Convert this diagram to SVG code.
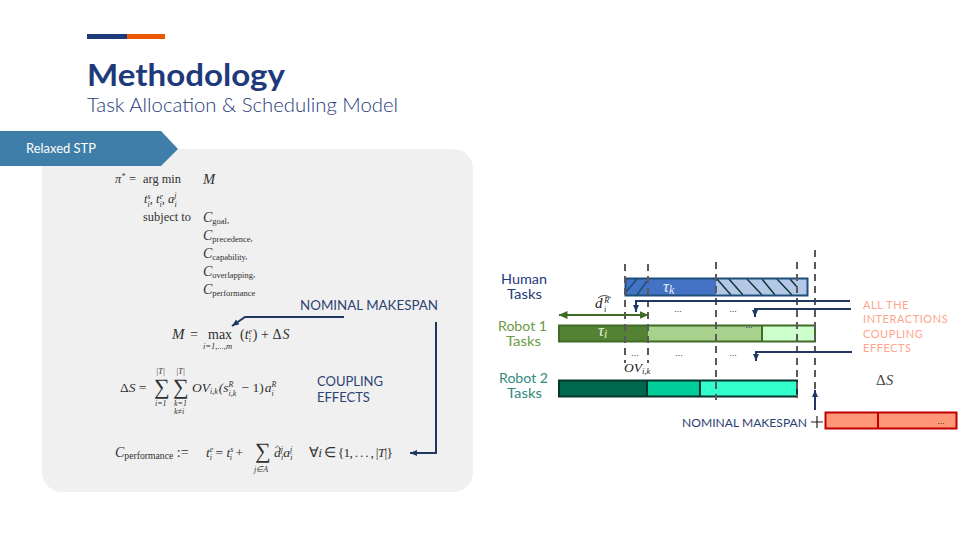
<svg xmlns="http://www.w3.org/2000/svg" width="960" height="540" viewBox="0 0 960 540">
<style>
.m{font-family:"Liberation Serif",serif;fill:#303030;font-size:12.4px}
.i{font-style:italic}
.n{font-style:normal}
.s{font-size:8px}
.t{font-size:8.5px;font-style:normal}
.sum{font-size:22px}
.h{font-family:Lato,sans-serif}
.lab{font-family:Lato,sans-serif;font-size:14px}
.c{fill:none;stroke:#1f3864;stroke-width:2}
.d{stroke:#595959;stroke-width:2;stroke-dasharray:7 5;fill:none}
.dots{font-family:"Liberation Sans",sans-serif;font-size:9px;fill:#1f3864;text-anchor:middle}
.ann{font-family:Lato,sans-serif;font-size:11px;fill:#ffa58c;letter-spacing:.55px}
.nav{font-family:Lato,sans-serif;fill:#2c4272}
</style>
<defs>
<marker id="ah" markerUnits="userSpaceOnUse" markerWidth="8" markerHeight="7" refX="7" refY="3.5" orient="auto"><path d="M0 .5L7 3.5L0 6.500Z" fill="#1f3864"/></marker>
<marker id="gh" markerUnits="userSpaceOnUse" markerWidth="9" markerHeight="8" refX="8.500" refY="4" orient="auto-start-reverse"><path d="M0 0L9 4L0 8Z" fill="#3f6b27"/></marker>
</defs>
<rect width="960" height="540" fill="#fff"/>
<g id="header">
<rect x="87" y="34" width="40" height="5" fill="#1f3a7a"/>
<rect x="127" y="34" width="38" height="5" fill="#ec5a00"/>
<text x="87" y="86" class="h" font-size="30" font-weight="700" fill="#1f3a7a" textLength="198" lengthAdjust="spacingAndGlyphs">Methodology</text>
<text x="87" y="112" class="h" font-size="19" font-weight="300" fill="#1f3a7a" textLength="311" lengthAdjust="spacingAndGlyphs">Task Allocation &amp; Scheduling Model</text>
</g>
<rect id="panel" x="42" y="149" width="431" height="343" rx="20" fill="#f0f0f0"/>
<g id="badge">
<path d="M0 131H161L178 149L161 166H0Z" fill="#3f7ea8"/>
<text x="26" y="153" class="h" font-size="13" fill="#fff" textLength="70" lengthAdjust="spacingAndGlyphs">Relaxed STP</text>
</g>
<g id="formula-top">
<text class="m i" x="115" y="183" font-size="13">π<tspan class="s" dy="-4">*</tspan></text><text class="m" x="129" y="183">=</text>
<text class="m" x="143" y="183">arg min</text><text class="m i" x="203" y="184" style="font-size:14.500px">M</text>
<text class="m i" x="144" y="203">t<tspan class="s" dy="-4">s</tspan><tspan class="s" dy="7.500" dx="-3">i</tspan><tspan dy="-3.500">, t</tspan><tspan class="s" dy="-4">e</tspan><tspan class="s" dy="7.500" dx="-3.500">i</tspan><tspan dy="-3.500">, a</tspan><tspan class="s" dy="-5">j</tspan><tspan class="s" dy="8.500" dx="-2">i</tspan></text>
<text class="m" x="143" y="221">subject to</text>
<text class="m i" x="203" y="222" style="font-size:14px">C<tspan class="t" dy="2">goal</tspan><tspan class="t" dy="-1">,</tspan></text>
<text class="m i" x="203" y="240" style="font-size:14px">C<tspan class="t" dy="2">precedence</tspan><tspan class="t" dy="-1">,</tspan></text>
<text class="m i" x="203" y="258" style="font-size:14px">C<tspan class="t" dy="2">capability</tspan><tspan class="t" dy="-1">,</tspan></text>
<text class="m i" x="203" y="276" style="font-size:14px">C<tspan class="t" dy="2">overlapping</tspan><tspan class="t" dy="-1">,</tspan></text>
<text class="m i" x="203" y="294" style="font-size:14px">C<tspan class="t" dy="2">performance</tspan></text>
</g>
<g id="formula-makespan">
<text class="m i" x="172" y="339" style="font-size:15px">M</text><text class="m" x="190" y="339" style="font-size:14px">=</text>
<text class="m" x="208" y="339" style="font-size:14px">max</text><text class="m i" x="203" y="349" style="font-size:8.500px">i=1,...,m</text>
<text class="m" x="240" y="339" style="font-size:14px">(<tspan class="i">t</tspan><tspan class="s i" dy="-5">e</tspan><tspan class="s i" dy="8" dx="-3.500">i</tspan><tspan dy="-3" dx="2">) + Δ</tspan><tspan class="i" dx="1">S</tspan></text>
</g>
<g id="formula-delta">
<text class="m" x="120" y="392" style="font-size:13.500px">Δ<tspan class="i">S</tspan> =</text>
<text class="m sum" x="154" y="394">∑</text><text class="m sum" x="173" y="394">∑</text>
<text class="m s i" x="156" y="374">|T|</text><text class="m s i" x="176" y="374">|T|</text>
<text class="m s i" x="155" y="406">i=1</text><text class="m s i" x="174" y="406">k=1</text><text class="m s i" x="174" y="414">k≠i</text>
<text class="m i" x="192" y="392" style="font-size:13.500px">OV<tspan class="s" dy="2">i,k</tspan><tspan dy="-2" dx="1">(s</tspan><tspan class="s" dy="-5">R</tspan><tspan class="s" dy="8.500" dx="-5">i,k</tspan><tspan dy="-3.500" class="n" dx="2"> − 1)</tspan><tspan dx="1">a</tspan><tspan class="s" dy="-5">R</tspan><tspan class="s" dy="8.500" dx="-5">i</tspan></text>
</g>
<g id="formula-performance">
<text class="m i" x="115" y="457" style="font-size:14px">C<tspan class="t" dy="2" style="font-size:9.700px">performance</tspan><tspan dy="-2" class="n"> :=</tspan></text>
<text class="m i" x="206" y="457" style="font-size:13.500px">t<tspan class="s" dy="-5">e</tspan><tspan class="s" dy="8" dx="-3.500">i</tspan><tspan dy="-3" class="n"> = </tspan>t<tspan class="s" dy="-5">s</tspan><tspan class="s" dy="8" dx="-3.500">i</tspan><tspan dy="-3" class="n"> +</tspan></text>
<text class="m sum" x="255" y="458">∑</text>
<text class="m s i" x="254" y="472">j∈A</text>
<text class="m i" x="274" y="457" style="font-size:13.500px">d<tspan class="s" dy="-5">j</tspan><tspan class="s" dy="8" dx="-2">i</tspan><tspan dy="-3">a</tspan><tspan class="s" dy="-5">j</tspan><tspan class="s" dy="8" dx="-2">i</tspan></text>
<path d="M275 448l2.500-2l2.500 2" fill="none" stroke="#303030" stroke-width=".7"/>
<text class="m" x="309" y="457" style="font-size:13.500px" textLength="84">∀<tspan class="i">i</tspan> ∈ {1, . . . , |<tspan class="i">T</tspan>|}</text>
</g>
<g id="left-labels">
<text class="nav" x="300" y="310" font-size="14" textLength="138" lengthAdjust="spacingAndGlyphs">NOMINAL MAKESPAN</text>
<text class="nav" x="317" y="386" font-size="13">COUPLING</text>
<text class="nav" x="317" y="402" font-size="13">EFFECTS</text>
</g>
<g id="human-tasks">
<text class="lab" x="501" y="284" fill="#1f3a7a" textLength="46" lengthAdjust="spacingAndGlyphs">Human</text><text class="lab" x="507" y="299" fill="#1f3a7a" textLength="35" lengthAdjust="spacingAndGlyphs">Tasks</text>
<rect x="625.500" y="278.500" width="91" height="17" fill="#4472c4"/>
<rect x="716.500" y="278.500" width="91" height="17" fill="#b4c7e7"/>
<g stroke-width="1.500" fill="none">
<path d="M637 279L626 292M647 281L637 295" stroke="#1f4e79"/>
<path d="M717 279L731 295M729 279L743 295M747 279L762 295M762 279L775 295M777 279L792 295M790 279L797 287" stroke="#0d3a3a"/>
</g>
<rect x="625.500" y="278.500" width="182" height="17" fill="none" stroke="#1f4e79" stroke-width="2"/>
<text x="663" y="292" font-family="'Liberation Serif',serif" font-style="italic" font-size="17" fill="#e6edf8">τ<tspan font-size="12" dy="2">k</tspan></text>
</g>
<g id="robot-1-tasks">
<text class="lab" x="498" y="331" fill="#6d9a45" textLength="49" lengthAdjust="spacingAndGlyphs">Robot 1</text><text class="lab" x="506" y="346" fill="#6d9a45" textLength="35" lengthAdjust="spacingAndGlyphs">Tasks</text>
<rect x="559" y="325.500" width="89" height="16" fill="#548235"/>
<rect x="648" y="325.500" width="114" height="16" fill="#a9d18e"/>
<rect x="762" y="325.500" width="53" height="16" fill="#ccffcc"/>
<rect x="559" y="325.500" width="256" height="16" fill="none" stroke="#3f6b27" stroke-width="2"/>
<path d="M762 325V342" stroke="#3f6b27" stroke-width="2"/>
<text x="598" y="336" font-family="'Liberation Serif',serif" font-style="italic" font-size="17" fill="#e6efdc">τ<tspan font-size="12" dy="2">i</tspan></text>
</g>
<g id="robot-2-tasks">
<text class="lab" x="499" y="383" fill="#2f8c7c" textLength="49" lengthAdjust="spacingAndGlyphs">Robot 2</text><text class="lab" x="507" y="398" fill="#2f8c7c" textLength="35" lengthAdjust="spacingAndGlyphs">Tasks</text>
<rect x="559" y="380.500" width="88" height="16" fill="#00674f"/>
<rect x="647" y="380.500" width="53" height="16" fill="#00cc99"/>
<rect x="700" y="380.500" width="97" height="16" fill="#33ffcc"/>
<rect x="559" y="380.500" width="238" height="16" fill="none" stroke="#06352c" stroke-width="2"/>
<path d="M647 380V397M700 380V397" stroke="#06352c" stroke-width="2"/>
</g>
<g id="coupling-block">
<rect x="825.500" y="412.500" width="131" height="16" fill="#ff9678" stroke="#c00000" stroke-width="2"/>
<path d="M878 412V429" stroke="#c00000" stroke-width="2"/>
<text class="dots" x="941" y="424" style="fill:#333">...</text>
</g>
<g id="right-labels">
<text class="ann" x="863" y="309">ALL THE</text>
<text class="ann" x="863" y="323">INTERACTIONS</text>
<text class="ann" x="863" y="338">COUPLING</text>
<text class="ann" x="863" y="352">EFFECTS</text>
<text x="876" y="385" font-family="'Liberation Serif',serif" font-size="15" fill="#444">Δ<tspan font-style="italic">S</tspan></text>
<text class="nav" x="682" y="427" font-size="11" textLength="125" lengthAdjust="spacingAndGlyphs">NOMINAL MAKESPAN</text>
<text x="595" y="308" font-family="'Liberation Serif',serif" font-style="italic" font-size="15" fill="#222">d<tspan font-size="8" dy="3.500" dx="1.500">i</tspan><tspan font-size="8" dy="-9" dx="-2">R</tspan></text>
<path d="M598 298Q604 293 611 298" fill="none" stroke="#222" stroke-width=".8"/>
<text x="624" y="372" font-family="'Liberation Serif',serif" font-style="italic" font-size="13.500" fill="#222">OV<tspan font-size="8.500" dy="2">i,k</tspan></text>
<text class="dots" x="678" y="312">...</text><text class="dots" x="733" y="312">...</text>
<text class="dots" x="635" y="356">...</text><text class="dots" x="679" y="356">...</text><text class="dots" x="733" y="356">...</text>
<text class="dots" x="749" y="328">...</text>
</g>
<g id="connectors">
<path class="d" d="M625 264V363"/>
<path class="d" d="M648 264V363"/>
<path class="d" d="M716 262V400"/>
<path class="d" d="M797 262V398"/>
<path class="d" d="M815 250V392"/>
<path class="c" d="M344 317H245L232 326" marker-end="url(#ah)"/>
<path class="c" d="M436 322V453H410" marker-end="url(#ah)"/>
<path class="c" d="M850 301H636V312" marker-end="url(#ah)"/>
<path class="c" d="M851 309H755V317" marker-end="url(#ah)"/>
<path class="c" d="M852 352H756V361" marker-end="url(#ah)"/>
<path class="c" d="M815 410V390" marker-end="url(#ah)"/>
<path d="M559 315H648" fill="none" stroke="#3f6b27" stroke-width="2" marker-start="url(#gh)" marker-end="url(#gh)"/>
<path d="M811 422H823M817 416V428" stroke="#222" stroke-width="1.200" fill="none"/>
</g>
</svg>
